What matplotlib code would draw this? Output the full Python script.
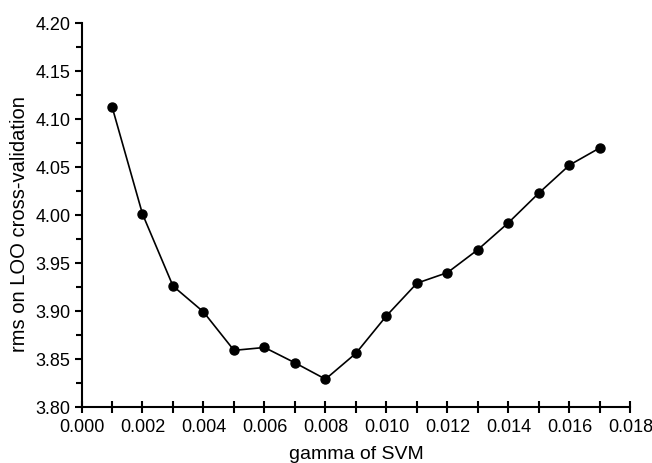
import matplotlib
matplotlib.use("Agg")
import matplotlib.pyplot as plt
from matplotlib.ticker import MultipleLocator, FormatStrFormatter

gamma = [0.001, 0.002, 0.003, 0.004, 0.005, 0.006, 0.007, 0.008, 0.009,
         0.010, 0.011, 0.012, 0.013, 0.014, 0.015, 0.016, 0.017]
rms = [4.113, 4.001, 3.926, 3.899, 3.859, 3.862, 3.846, 3.829, 3.856,
       3.895, 3.929, 3.940, 3.964, 3.992, 4.023, 4.052, 4.070]

plt.rcParams['font.family'] = ['Liberation Sans', 'DejaVu Sans']

fig = plt.figure(figsize=(6.52, 4.64), dpi=100)
ax = fig.add_axes([0.125, 0.1207, 0.842, 0.8276])
ax.plot(gamma, rms, color='black', lw=1.2, marker='o', ms=6.5)

ax.set_xlim(0.0, 0.018)
ax.set_ylim(3.80, 4.20)
ax.xaxis.set_major_locator(MultipleLocator(0.002))
ax.xaxis.set_minor_locator(MultipleLocator(0.001))
ax.yaxis.set_major_locator(MultipleLocator(0.05))
ax.yaxis.set_minor_locator(MultipleLocator(0.025))
ax.xaxis.set_major_formatter(FormatStrFormatter('%.3f'))
ax.yaxis.set_major_formatter(FormatStrFormatter('%.2f'))

for s in ['top', 'right']:
    ax.spines[s].set_visible(False)
for s in ['left', 'bottom']:
    ax.spines[s].set_linewidth(1.5)

ax.tick_params(axis='x', which='both', direction='inout', width=1.5)
ax.tick_params(axis='x', which='major', length=8, labelsize=13, pad=4)
ax.tick_params(axis='x', which='minor', length=8)
ax.tick_params(axis='y', which='both', direction='out', width=1.5)
ax.tick_params(axis='y', which='major', length=5, labelsize=13, pad=3)
ax.tick_params(axis='y', which='minor', length=4)

ax.set_xlabel('gamma of SVM', fontsize=14, labelpad=7)
ax.set_ylabel('rms on LOO cross-validation', fontsize=14.5, labelpad=4.5, y=0.48)

fig.savefig('out.png', dpi=100)
